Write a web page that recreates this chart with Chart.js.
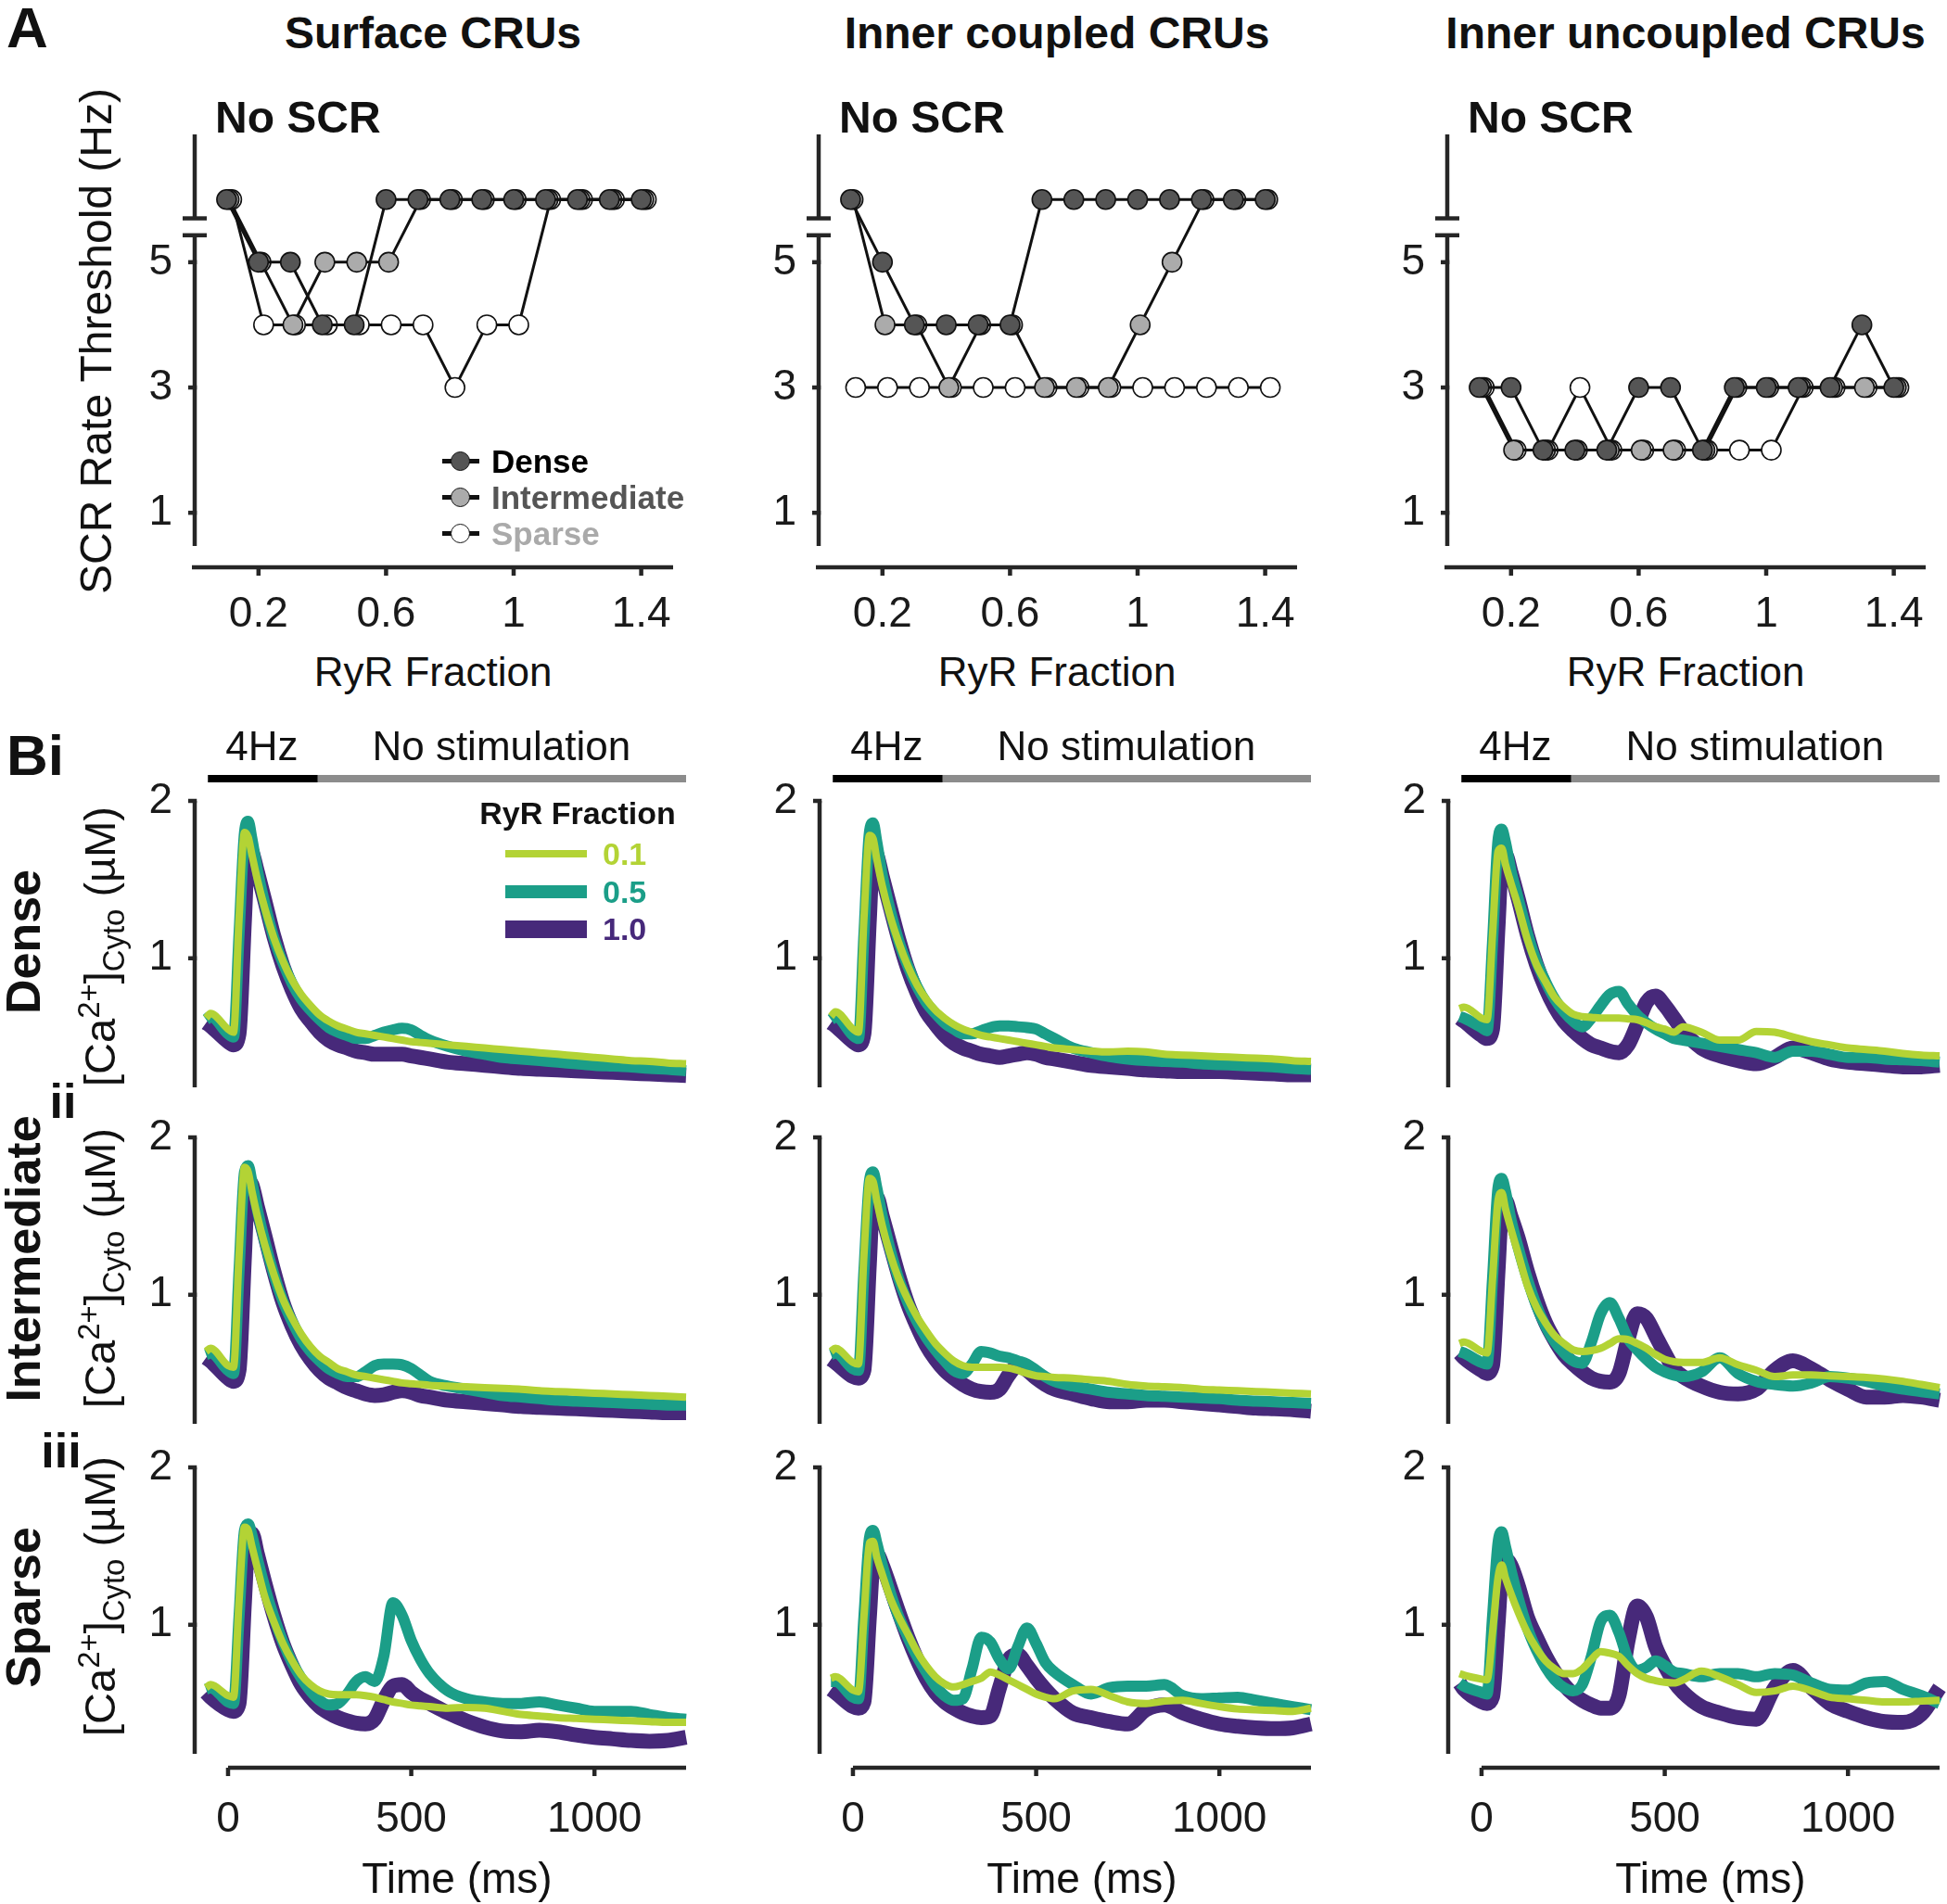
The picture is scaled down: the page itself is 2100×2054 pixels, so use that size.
<!DOCTYPE html>
<html><head><meta charset="utf-8">
<script src="https://cdn.jsdelivr.net/npm/chart.js@4"></script>
<style>
html,body{margin:0;padding:0;background:#fff;}
#fig{position:relative;width:2100px;height:2054px;overflow:hidden;font-family:"Liberation Sans",Arial,Helvetica,sans-serif;color:#111;background:#fff;}
.t{position:absolute;white-space:nowrap;line-height:1;}
.t sup,.t sub{font-size:0.7em;line-height:0;}
canvas{position:absolute;}
.sw{position:absolute;}
</style></head><body><div id="fig"></div>
<script>
// ================= DATA =================
// Panel A: SCR rate threshold (Hz) vs RyR fraction; 6 = "No SCR"
const ryrFraction = [0.1,0.2,0.3,0.4,0.5,0.6,0.7,0.8,0.9,1.0,1.1,1.2,1.3,1.4];
const rateTicks = [1,3,5];
const fracTicks = [0.2,0.6,1.0,1.4];
const fracTickLabels = ['0.2','0.6','1','1.4'];
const surfaceDense  = [6,5,5,4,4,6,6,6,6,6,6,6,6,6];
const surfaceInter  = [6,5,4,5,5,5,6,6,6,6,6,6,6,6];
const surfaceSparse = [6,4,4,4,4,4,4,3,4,4,6,6,6,6];
const coupledDense  = [6,5,4,4,4,4,6,6,6,6,6,6,6,6];
const coupledInter  = [6,4,4,3,4,4,3,3,3,4,5,6,6,6];
const coupledSparse = [3,3,3,3,3,3,3,3,3,3,3,3,3,3];
const uncoupledDense  = [3,3,2,2,2,3,3,2,3,3,3,3,4,3];
const uncoupledInter  = [3,2,2,2,2,2,2,2,3,3,3,3,3,3];
const uncoupledSparse = [3,2,2,3,2,2,2,2,2,2,3,3,3,3];

// Panel B: cytosolic Ca (uM) vs time (ms)
const timeMs = [-60,-48,0,15,30,45,55,65,80,100, 125,150,175,200,225,250,275,300,325,350,
  375,400,425,450,475,500,525,550,600,650, 700,750,800,850,900,950,1000,1050,1100,1150, 1200,1250];
const timeTicks = [0,500,1000];
const caTicks = [1,2];
// Row i (Dense)
const denseSurf01 = [0.62,0.65,0.55,0.53,1.25,1.80,1.77,1.66,1.50,1.32, 1.13,0.98,0.86,0.77,0.70,0.64,0.60,0.57,0.55,0.53, 0.52,0.51,0.50,0.49,0.48,0.47,0.465,0.46,0.45,0.44, 0.43,0.42,0.41,0.40,0.39,0.38,0.37,0.36,0.35,0.345, 0.335,0.33];
const denseSurf05 = [0.61,0.63,0.52,0.50,1.15,1.80,1.87,1.76,1.56,1.35, 1.13,0.97,0.84,0.74,0.67,0.61,0.56,0.53,0.51,0.49, 0.49,0.51,0.53,0.545,0.555,0.545,0.51,0.48,0.44,0.41, 0.39,0.37,0.36,0.35,0.34,0.33,0.32,0.315,0.31,0.30, 0.295,0.285];
const denseSurf10 = [0.59,0.57,0.47,0.45,0.52,1.25,1.70,1.68,1.55,1.37, 1.14,0.95,0.80,0.68,0.60,0.53,0.48,0.45,0.43,0.41, 0.40,0.39,0.39,0.39,0.39,0.38,0.37,0.36,0.34,0.33, 0.32,0.31,0.30,0.295,0.29,0.285,0.28,0.275,0.27,0.265, 0.26,0.255];
const denseCoup01 = [0.63,0.66,0.55,0.53,1.25,1.78,1.76,1.63,1.46,1.28, 1.10,0.95,0.83,0.74,0.67,0.62,0.58,0.55,0.53,0.51, 0.50,0.49,0.48,0.47,0.46,0.45,0.44,0.43,0.42,0.41, 0.405,0.41,0.405,0.39,0.385,0.38,0.375,0.37,0.365,0.36, 0.35,0.345];
const denseCoup05 = [0.61,0.63,0.51,0.49,1.15,1.80,1.86,1.74,1.53,1.32, 1.11,0.95,0.82,0.72,0.65,0.59,0.55,0.52,0.52,0.54, 0.56,0.57,0.57,0.565,0.56,0.55,0.52,0.49,0.43,0.40, 0.375,0.36,0.35,0.345,0.34,0.33,0.325,0.32,0.315,0.31, 0.30,0.295];
const denseCoup10 = [0.59,0.57,0.47,0.45,0.52,1.25,1.68,1.66,1.52,1.34, 1.12,0.93,0.78,0.66,0.58,0.51,0.46,0.43,0.41,0.39, 0.38,0.37,0.38,0.39,0.40,0.39,0.37,0.36,0.34,0.32, 0.31,0.30,0.29,0.285,0.28,0.28,0.28,0.275,0.27,0.265, 0.26,0.26];
const denseUnc01 = [0.68,0.69,0.62,0.61,1.15,1.68,1.70,1.60,1.48,1.33, 1.12,0.96,0.85,0.75,0.69,0.645,0.63,0.625,0.62,0.62, 0.62,0.615,0.61,0.59,0.565,0.55,0.53,0.565,0.53,0.48, 0.48,0.535,0.53,0.50,0.47,0.45,0.43,0.42,0.41,0.395, 0.385,0.38];
const denseUnc05 = [0.63,0.62,0.56,0.54,1.10,1.75,1.82,1.74,1.56,1.38, 1.16,0.98,0.85,0.74,0.66,0.60,0.565,0.62,0.70,0.77, 0.79,0.71,0.64,0.59,0.55,0.52,0.49,0.48,0.46,0.44, 0.42,0.40,0.37,0.41,0.41,0.39,0.37,0.37,0.36,0.355, 0.35,0.34];
const denseUnc10 = [0.62,0.60,0.51,0.49,0.55,1.20,1.62,1.66,1.55,1.38, 1.15,0.96,0.81,0.69,0.60,0.54,0.49,0.45,0.43,0.41, 0.40,0.45,0.58,0.72,0.76,0.70,0.62,0.54,0.43,0.38, 0.35,0.33,0.37,0.43,0.40,0.36,0.34,0.33,0.32,0.31, 0.31,0.32];
// Row ii (Intermediate)
const interSurf01 = [0.64,0.66,0.55,0.54,1.25,1.81,1.78,1.66,1.50,1.32, 1.13,0.97,0.85,0.75,0.67,0.61,0.57,0.53,0.51,0.49, 0.48,0.47,0.46,0.45,0.44,0.435,0.43,0.425,0.42,0.415, 0.41,0.405,0.40,0.39,0.385,0.38,0.375,0.37,0.365,0.36, 0.355,0.35];
const interSurf05 = [0.62,0.63,0.52,0.50,1.15,1.78,1.82,1.72,1.54,1.34, 1.13,0.96,0.83,0.72,0.64,0.58,0.53,0.50,0.48,0.48, 0.51,0.55,0.56,0.56,0.555,0.53,0.49,0.45,0.42,0.40, 0.38,0.36,0.35,0.34,0.33,0.325,0.32,0.315,0.31,0.305, 0.30,0.30];
const interSurf10 = [0.60,0.58,0.47,0.45,0.52,1.25,1.72,1.70,1.56,1.38, 1.15,0.95,0.80,0.68,0.59,0.52,0.47,0.44,0.41,0.39, 0.37,0.36,0.365,0.38,0.39,0.38,0.36,0.35,0.33,0.32, 0.31,0.30,0.29,0.285,0.28,0.275,0.27,0.265,0.26,0.255, 0.25,0.25];
const interCoup01 = [0.64,0.66,0.57,0.56,1.25,1.74,1.72,1.60,1.44,1.27, 1.10,0.97,0.86,0.77,0.69,0.63,0.58,0.55,0.54,0.54, 0.54,0.54,0.535,0.52,0.50,0.485,0.48,0.475,0.47,0.46, 0.45,0.43,0.42,0.415,0.41,0.40,0.395,0.39,0.385,0.38, 0.375,0.37];
const interCoup05 = [0.62,0.63,0.53,0.52,1.15,1.72,1.78,1.68,1.50,1.30, 1.10,0.95,0.83,0.73,0.65,0.58,0.52,0.50,0.56,0.64, 0.63,0.61,0.60,0.58,0.56,0.52,0.48,0.45,0.42,0.40, 0.38,0.37,0.36,0.355,0.35,0.345,0.34,0.33,0.325,0.32, 0.315,0.31];
const interCoup10 = [0.59,0.57,0.48,0.47,0.52,1.20,1.62,1.62,1.50,1.33, 1.12,0.94,0.80,0.68,0.59,0.52,0.47,0.43,0.40,0.385, 0.38,0.40,0.49,0.55,0.52,0.47,0.43,0.40,0.37,0.34, 0.32,0.32,0.33,0.33,0.32,0.31,0.30,0.29,0.28,0.275, 0.27,0.26];
const interUnc01 = [0.69,0.70,0.64,0.63,1.10,1.60,1.65,1.55,1.42,1.26, 1.06,0.92,0.82,0.74,0.69,0.65,0.64,0.645,0.66,0.69, 0.72,0.715,0.69,0.66,0.62,0.59,0.575,0.57,0.57,0.60, 0.555,0.52,0.48,0.49,0.49,0.485,0.48,0.475,0.465,0.45, 0.43,0.41];
const interUnc05 = [0.64,0.63,0.57,0.56,1.10,1.68,1.74,1.66,1.48,1.30, 1.10,0.93,0.80,0.70,0.63,0.58,0.565,0.70,0.88,0.95, 0.85,0.72,0.65,0.59,0.54,0.51,0.49,0.48,0.51,0.60, 0.50,0.45,0.43,0.42,0.44,0.48,0.47,0.45,0.42,0.40, 0.385,0.37];
const interUnc10 = [0.63,0.60,0.52,0.50,0.55,1.15,1.55,1.60,1.50,1.36, 1.15,0.97,0.82,0.71,0.62,0.56,0.51,0.47,0.45,0.445, 0.50,0.72,0.88,0.85,0.74,0.63,0.53,0.48,0.42,0.38, 0.37,0.40,0.52,0.58,0.53,0.46,0.40,0.35,0.35,0.36, 0.35,0.33];
// Row iii (Sparse)
const sparseSurf01 = [0.60,0.62,0.55,0.54,1.15,1.62,1.60,1.50,1.36,1.18, 1.02,0.88,0.77,0.68,0.62,0.58,0.56,0.555,0.555,0.555, 0.55,0.54,0.525,0.51,0.50,0.49,0.485,0.48,0.47,0.475, 0.47,0.45,0.43,0.42,0.41,0.405,0.40,0.395,0.39,0.385, 0.38,0.38];
const sparseSurf05 = [0.59,0.60,0.51,0.50,1.05,1.60,1.64,1.57,1.42,1.24, 1.05,0.89,0.76,0.66,0.58,0.52,0.49,0.50,0.56,0.64, 0.67,0.64,0.80,1.14,1.06,0.90,0.78,0.69,0.58,0.53, 0.51,0.50,0.50,0.51,0.49,0.47,0.45,0.45,0.45,0.43, 0.41,0.40];
const sparseSurf10 = [0.57,0.54,0.46,0.45,0.50,1.15,1.55,1.58,1.45,1.27, 1.06,0.88,0.74,0.62,0.54,0.48,0.44,0.41,0.39,0.375, 0.37,0.40,0.52,0.61,0.62,0.57,0.53,0.50,0.44,0.39, 0.35,0.325,0.32,0.33,0.32,0.30,0.285,0.275,0.265,0.26, 0.265,0.285];
const sparseCoup01 = [0.66,0.67,0.585,0.575,1.05,1.52,1.53,1.43,1.32,1.18, 1.05,0.94,0.83,0.74,0.67,0.625,0.605,0.62,0.64,0.66, 0.70,0.68,0.65,0.62,0.59,0.56,0.54,0.53,0.58,0.59, 0.55,0.51,0.50,0.515,0.52,0.50,0.48,0.465,0.46,0.455, 0.45,0.47];
const sparseCoup05 = [0.64,0.64,0.54,0.53,1.05,1.55,1.60,1.52,1.38,1.22, 1.05,0.92,0.80,0.70,0.61,0.55,0.52,0.53,0.72,0.92, 0.89,0.78,0.72,0.86,0.98,0.88,0.76,0.70,0.62,0.56, 0.60,0.61,0.61,0.62,0.55,0.53,0.535,0.54,0.52,0.50, 0.48,0.46];
const sparseCoup10 = [0.59,0.57,0.48,0.47,0.51,1.05,1.40,1.45,1.38,1.25, 1.08,0.92,0.78,0.66,0.57,0.51,0.47,0.44,0.42,0.41, 0.42,0.60,0.78,0.81,0.74,0.66,0.59,0.53,0.44,0.41, 0.385,0.37,0.46,0.49,0.44,0.40,0.37,0.355,0.345,0.34, 0.345,0.37];
const sparseUnc01 = [0.69,0.68,0.655,0.65,0.95,1.30,1.38,1.30,1.20,1.08, 0.95,0.85,0.77,0.72,0.69,0.69,0.72,0.78,0.83,0.82, 0.80,0.74,0.69,0.66,0.645,0.635,0.63,0.65,0.705,0.67, 0.62,0.57,0.58,0.61,0.58,0.54,0.53,0.52,0.51,0.51, 0.515,0.52];
const sparseUnc05 = [0.63,0.61,0.57,0.56,1.05,1.52,1.59,1.50,1.35,1.17, 0.98,0.84,0.73,0.65,0.60,0.58,0.62,0.80,1.02,1.06, 0.95,0.78,0.71,0.73,0.77,0.74,0.70,0.69,0.67,0.69, 0.69,0.67,0.69,0.68,0.63,0.59,0.585,0.63,0.64,0.59, 0.55,0.50];
const sparseUnc10 = [0.63,0.59,0.51,0.50,0.54,1.00,1.35,1.42,1.38,1.25, 1.05,0.92,0.80,0.70,0.62,0.56,0.52,0.49,0.47,0.47, 0.55,0.90,1.12,1.05,0.86,0.74,0.64,0.57,0.48,0.44, 0.41,0.40,0.60,0.71,0.60,0.50,0.45,0.41,0.385,0.38, 0.43,0.60];

// ================= STYLE / LAYOUT =================
const FONT = '"Liberation Sans", Arial, Helvetica, sans-serif';
const AX = '#262626', AXW = 4.5, TICK = 7;
const C01 = '#b3d335', C05 = '#1b9e88', C10 = '#47297a';
const W01 = 8, W05 = 12, W10 = 16;
const FILL = {dense:'#555555', inter:'#ababab', sparse:'#ffffff'};
const JITTER = {dense:0, inter:0.008, sparse:0.016};
const fig = document.getElementById('fig');

function txt(html, x, y, size, o = {}) {
  const d = document.createElement('div');
  d.className = 't';
  d.innerHTML = html;
  d.style.left = x + 'px'; d.style.top = y + 'px';
  d.style.fontSize = size + 'px';
  if (o.bold) d.style.fontWeight = 'bold';
  d.style.color = o.color || '#111';
  let tr = o.left ? 'translate(0,-50%)' : 'translate(-50%,-50%)';
  if (o.rot) tr += ' rotate(' + o.rot + 'deg)';
  d.style.transform = tr;
  fig.appendChild(d);
}
function box(l, t, w, h, css) {
  const d = document.createElement('div');
  d.className = 'sw';
  d.style.left = l + 'px'; d.style.top = t + 'px';
  d.style.width = w + 'px'; d.style.height = h + 'px';
  Object.assign(d.style, css);
  fig.appendChild(d);
}

const axesPlugin = {
  id: 'figAxes',
  afterDraw(chart, args, o) {
    const ctx = chart.ctx, xs = chart.scales.x, ys = chart.scales.y, a = chart.chartArea;
    const line = (x0, y0, x1, y1) => { ctx.beginPath(); ctx.moveTo(x0, y0); ctx.lineTo(x1, y1); ctx.stroke(); };
    ctx.save();
    ctx.strokeStyle = AX; ctx.lineWidth = AXW; ctx.lineCap = 'butt';
    const X = a.left;
    o.ySeg.forEach(s => line(X, ys.getPixelForValue(s[0]), X, ys.getPixelForValue(s[1])));
    o.yTicks.forEach(v => { const y = ys.getPixelForValue(v); line(X - TICK, y, X + AXW / 2, y); });
    (o.yBreaks || []).forEach(v => { const y = ys.getPixelForValue(v); line(X - 13, y, X + 13, y); });
    if (o.xAxis) {
      const y = a.bottom + o.xAxis.gap;
      const x0 = o.xAxis.from == null ? a.left - 3 : xs.getPixelForValue(o.xAxis.from);
      line(x0, y, a.right, y);
      o.xAxis.ticks.forEach(v => { const x = xs.getPixelForValue(v); line(x, y, x, y + TICK + 2); });
    }
    if (o.stim) {
      const y = a.top - 24;
      ctx.lineWidth = 8;
      ctx.strokeStyle = '#000';
      line(xs.getPixelForValue(o.stim[0]), y, xs.getPixelForValue(o.stim[1]), y);
      ctx.strokeStyle = '#8c8c8c';
      line(xs.getPixelForValue(o.stim[1]), y, xs.getPixelForValue(o.stim[2]), y);
    }
    ctx.restore();
  }
};

function panel(area, m, xCfg, yCfg, datasets, axOpts) {
  const c = document.createElement('canvas');
  const W = area.r - area.l + m.l + m.r, H = area.b - area.t + m.t + m.b;
  c.width = W; c.height = H;
  c.style.left = (area.l - m.l) + 'px'; c.style.top = (area.t - m.t) + 'px';
  c.style.width = W + 'px'; c.style.height = H + 'px';
  fig.appendChild(c);
  const tickFont = {family: FONT, size: 46, lineHeight: 1};
  new Chart(c, {
    type: 'line',
    data: {datasets},
    options: {
      responsive: false, maintainAspectRatio: false, animation: false, devicePixelRatio: 1,
      layout: {padding: {left: 0, right: m.r, top: m.t, bottom: 0}},
      plugins: {legend: {display: false}, tooltip: {enabled: false}, figAxes: axOpts},
      events: [],
      scales: {
        x: {type: 'linear', min: xCfg.min, max: xCfg.max,
          grid: {display: false, drawTicks: false}, border: {display: false},
          afterBuildTicks: s => { s.ticks = xCfg.ticks.map(v => ({value: v})); },
          afterFit: s => { s.height = m.b; },
          ticks: {display: xCfg.show, padding: xCfg.pad, font: tickFont, color: '#1a1a1a',
            autoSkip: false, maxRotation: 0, callback: (v, i) => xCfg.labels[i]}},
        y: {type: 'linear', min: yCfg.min, max: yCfg.max,
          grid: {display: false, drawTicks: false}, border: {display: false},
          afterBuildTicks: s => { s.ticks = yCfg.ticks.map(v => ({value: v})); },
          afterFit: s => { s.width = m.l; },
          ticks: {padding: 24, font: tickFont, color: '#1a1a1a', autoSkip: false,
            callback: (v, i) => yCfg.labels[i]}}
      }
    },
    plugins: [axesPlugin]
  });
}

// ================= PANEL A =================
const A_YMIN = 0.47, A_YMAX = 7.04;
const aCols = [
  {l: 210, title: 'Surface CRUs', d: surfaceDense, i: surfaceInter, s: surfaceSparse},
  {l: 883, title: 'Inner coupled CRUs', d: coupledDense, i: coupledInter, s: coupledSparse},
  {l: 1561, title: 'Inner uncoupled CRUs', d: uncoupledDense, i: uncoupledInter, s: uncoupledSparse}
];
function aSet(vals, kind) {
  return {
    data: ryrFraction.map((f, k) => ({x: f + JITTER[kind], y: vals[k]})),
    borderColor: '#111', borderWidth: 3, pointRadius: 10.5, pointBorderWidth: 1.6,
    pointBackgroundColor: FILL[kind], pointBorderColor: '#111', clip: false, tension: 0
  };
}
aCols.forEach(col => {
  panel({l: col.l, r: col.l + 516, t: 145, b: 589}, {l: 110, r: 80, t: 70, b: 110},
    {min: 0, max: 1.5, ticks: fracTicks, labels: fracTickLabels, show: true, pad: 51},
    {min: A_YMIN, max: A_YMAX, ticks: rateTicks, labels: rateTicks.map(String)},
    [aSet(col.d, 'dense'), aSet(col.i, 'inter'), aSet(col.s, 'sparse')],
    {ySeg: [[A_YMIN, 5.43], [5.70, A_YMAX]], yBreaks: [5.43, 5.70], yTicks: rateTicks,
     xAxis: {gap: 23, from: null, ticks: fracTicks}});
  txt(col.title, col.l + 257, 36, 48, {bold: true});
  txt('No SCR', col.l + 22, 127, 48, {bold: true, left: true});
  txt('RyR Fraction', col.l + 257, 725, 44);
});
txt('A', 7, 30, 62, {bold: true, left: true});
txt('SCR Rate Threshold (Hz)', 104, 368, 48, {rot: -90});
// legend A
[['Dense', 'dense', '#000', 497], ['Intermediate', 'inter', '#555', 536], ['Sparse', 'sparse', '#aaa', 575]].forEach(e => {
  box(477, e[3] - 2.5, 40, 5, {background: '#111'});
  box(486, e[3] - 10.5, 21, 21, {background: FILL[e[1]], border: '1.6px solid #111', borderRadius: '50%', boxSizing: 'border-box'});
  txt(e[0], 530, e[3], 35, {bold: true, color: e[2], left: true});
});

// ================= PANEL B =================
const B_YMIN = 0.18;
const bColsL = [210, 884, 1562];
const bRows = [
  {t: 864, b: 1173, sets: [[denseSurf01, denseSurf05, denseSurf10], [denseCoup01, denseCoup05, denseCoup10], [denseUnc01, denseUnc05, denseUnc10]]},
  {t: 1227, b: 1536, sets: [[interSurf01, interSurf05, interSurf10], [interCoup01, interCoup05, interCoup10], [interUnc01, interUnc05, interUnc10]]},
  {t: 1583, b: 1892, sets: [[sparseSurf01, sparseSurf05, sparseSurf10], [sparseCoup01, sparseCoup05, sparseCoup10], [sparseUnc01, sparseUnc05, sparseUnc10]]}
];
const stimEdges = [-55, 245, 1250];
function bSet(vals, color, w) {
  return {data: timeMs.map((t, k) => ({x: t, y: vals[k]})), borderColor: color, borderWidth: w,
    pointRadius: 0, cubicInterpolationMode: 'monotone', borderCapStyle: 'butt', borderJoinStyle: 'round', clip: false};
}
bRows.forEach((row, ri) => {
  bColsL.forEach((l, ci) => {
    const last = ri === 2;
    const s = row.sets[ci];
    panel({l, r: l + 530, t: row.t, b: row.b}, {l: 110, r: 40, t: 60, b: last ? 110 : 60},
      {min: -91, max: 1250, ticks: timeTicks, labels: timeTicks.map(String), show: last, pad: 48},
      {min: B_YMIN, max: 2, ticks: caTicks, labels: caTicks.map(String)},
      [bSet(s[0], C01, W01), bSet(s[1], C05, W05), bSet(s[2], C10, W10)],
      {ySeg: [[B_YMIN, 2]], yTicks: caTicks, xAxis: last ? {gap: 15, from: 0, ticks: timeTicks} : null,
       stim: ri === 0 ? stimEdges : null});
    const px = t => l + (t + 91) * 530 / 1341;
    if (ri === 0) {
      txt('4Hz', px(92), 805, 44);
      txt('No stimulation', px(746), 805, 44);
    }
    if (last) txt('Time (ms)', px(625), 2026, 46);
  });
});
txt('Bi', 7, 815, 62, {bold: true, left: true});
txt('ii', 68, 1188, 52, {bold: true});
txt('iii', 66, 1565, 52, {bold: true});
txt('Dense', 25, 1016, 52, {bold: true, rot: -90});
txt('Intermediate', 25, 1358, 52, {bold: true, rot: -90});
txt('Sparse', 25, 1734, 52, {bold: true, rot: -90});
[1021, 1368, 1722].forEach(y => txt('[Ca<sup>2+</sup>]<sub>Cyto</sub> (µM)', 107, y, 47, {rot: -90}));
// legend B
txt('RyR Fraction', 623, 877, 34, {bold: true});
[['0.1', C01, W01, 921], ['0.5', C05, 14, 962], ['1.0', C10, 19, 1002]].forEach(e => {
  box(545, e[3] - e[2] / 2, 88, e[2], {background: e[1]});
  txt(e[0], 650, e[3], 34, {bold: true, color: e[1], left: true});
});
</script></body></html>
